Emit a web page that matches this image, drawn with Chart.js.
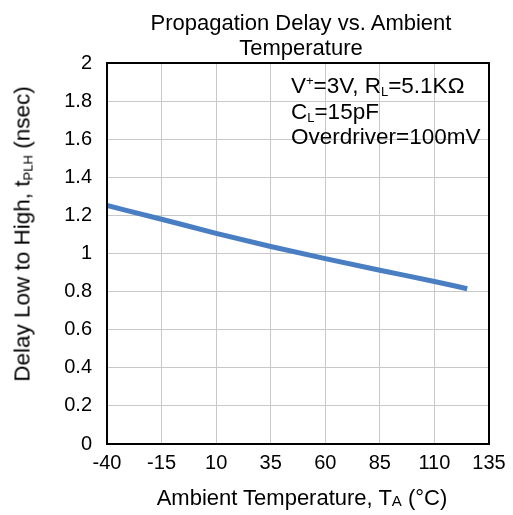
<!DOCTYPE html>
<html>
<head>
<meta charset="utf-8">
<script src="https://cdn.jsdelivr.net/npm/chart.js@4.4.1/dist/chart.umd.min.js"></script>
<style>
  html, body { margin: 0; padding: 0; background: #fff; }
  #wrap { position: relative; width: 513px; height: 515px; font-family: "Liberation Sans", Arial, sans-serif; color: #000; }
  #c { position: absolute; left: 0; top: 0; }
  .ov { position: absolute; white-space: nowrap; font-size: 22px; line-height: 25px; }
  .ov sub, .ov sup { font-size: 13px; line-height: 0; }
  .ov sub { vertical-align: -3px; }
  .ov sup { vertical-align: 8px; }
</style>
</head>
<body>
<div id="wrap">
  <canvas id="c" width="513" height="515"></canvas>
  <div class="ov" id="title" style="left:301px; top:10px; transform:translateX(-50%); text-align:center;">Propagation Delay vs. Ambient<br>Temperature</div>
  <div class="ov" id="note" style="left:291px; top:73px; font-size:22.5px; line-height:25.5px;">V<sup>+</sup>=3V, R<sub>L</sub>=5.1KΩ<br>C<sub>L</sub>=15pF<br>Overdriver=100mV</div>
  <div class="ov" id="xtitle" style="left:302px; top:485px; transform:translateX(-50%);">Ambient Temperature, T<sub style="font-size:15px;vertical-align:-1px">A</sub> (°C)</div>
  <div class="ov" id="ytitle" style="left:22px; top:234px; font-size:22.5px; transform:translate(-50%,-50%) rotate(-90deg);">Delay Low to High, t<sub>PLH</sub> (nsec)</div>
</div>
<script>
// Data
const temperatures = [-40, -15, 10, 35, 60, 85, 110, 125];
const delayPLH = [1.252, 1.180, 1.106, 1.037, 0.973, 0.912, 0.853, 0.815];
const xTicks = [-40, -15, 10, 35, 60, 85, 110, 135];
const yTicks = [0, 0.2, 0.4, 0.6, 0.8, 1, 1.2, 1.4, 1.6, 1.8, 2];

const FONT = '"Liberation Sans", Arial, sans-serif';

const framePlugin = {
  id: 'frame',
  afterDatasetsDraw(chart) {
    const a = chart.chartArea, ctx = chart.ctx;
    ctx.save();
    ctx.strokeStyle = '#000';
    ctx.lineWidth = 2;
    ctx.strokeRect(a.left, a.top, a.right - a.left, a.bottom - a.top);
    ctx.restore();
  }
};

new Chart(document.getElementById('c'), {
  type: 'scatter',
  data: {
    datasets: [{
      data: temperatures.map((t, i) => ({ x: t, y: delayPLH[i] })),
      showLine: true,
      borderColor: '#4a7ec2',
      borderWidth: 5,
      pointRadius: 0,
      cubicInterpolationMode: 'monotone',
      borderCapStyle: 'butt'
    }]
  },
  options: {
    responsive: false,
    animation: false,
    devicePixelRatio: 1,
    layout: { padding: { top: 63, right: 24, left: 0, bottom: 0 } },
    plugins: { legend: { display: false }, tooltip: { enabled: false }, title: { display: false } },
    scales: {
      x: {
        type: 'linear',
        min: -40, max: 135,
        afterBuildTicks(s) { s.ticks = xTicks.map(v => ({ value: v })); },
        afterFit(s) { s.height = 71; },
        grid: { color: '#c8c8c8', lineWidth: 1, drawTicks: false },
        border: { display: false },
        ticks: { color: '#000', font: { family: FONT, size: 20 }, padding: 7, maxRotation: 0, autoSkip: false,
                 callback: v => String(v) }
      },
      y: {
        min: 0, max: 2,
        afterBuildTicks(s) { s.ticks = yTicks.map(v => ({ value: v })); },
        afterFit(s) { s.width = 107; },
        grid: { color: '#c8c8c8', lineWidth: 1, drawTicks: false },
        border: { display: false },
        ticks: { color: '#000', font: { family: FONT, size: 20 }, padding: 15,
                 callback: v => String(Number(v.toFixed(1))) }
      }
    }
  },
  plugins: [framePlugin]
});
</script>
</body>
</html>
